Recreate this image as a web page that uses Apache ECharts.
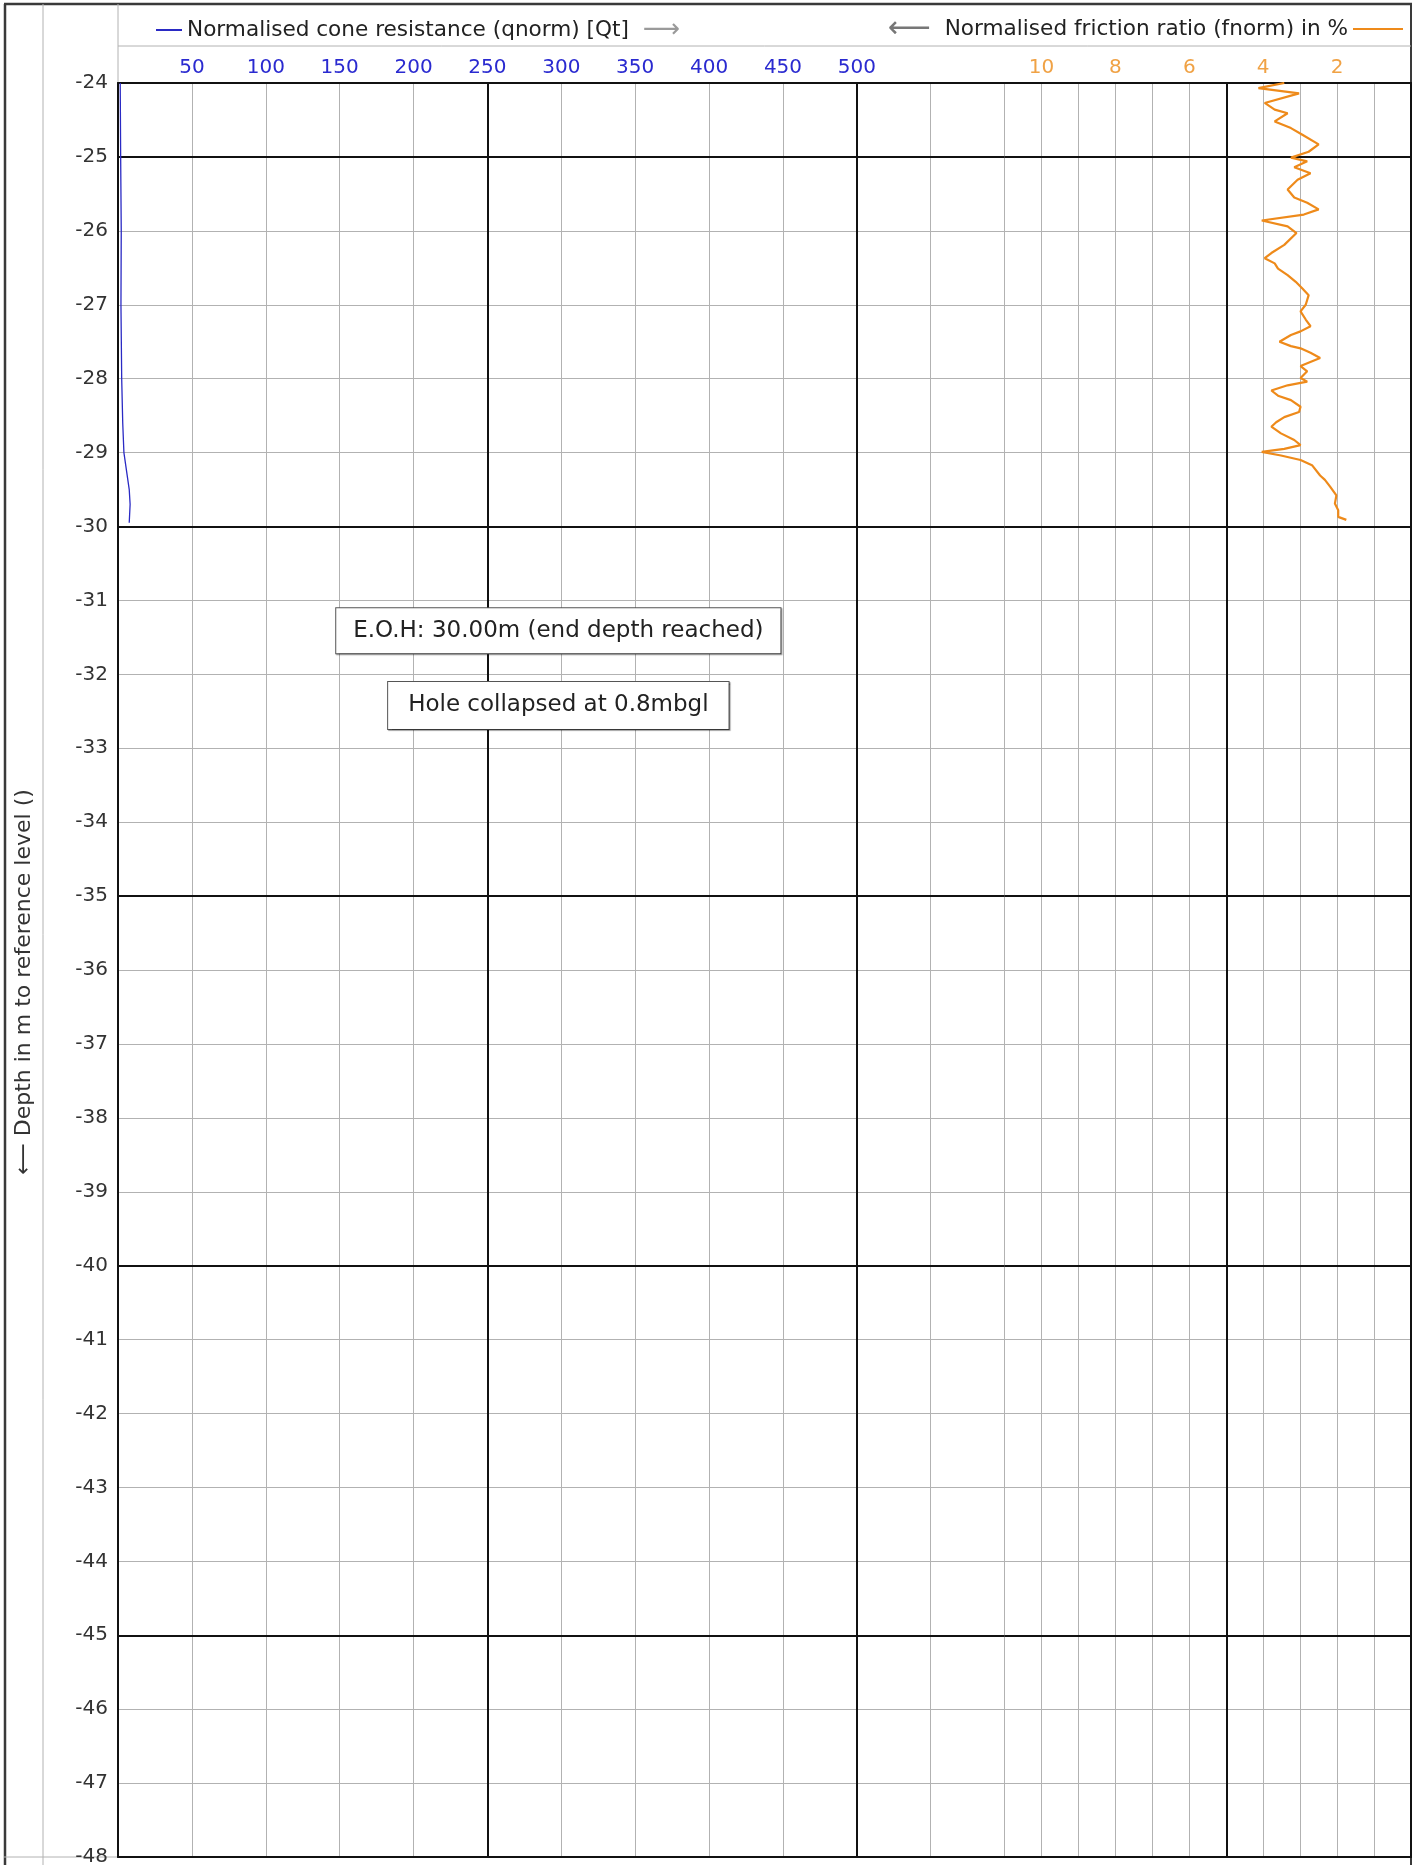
<!DOCTYPE html>
<html>
<head>
<meta charset="utf-8">
<script src="https://cdn.jsdelivr.net/npm/echarts@6/dist/echarts.min.js"></script>
<style>
html,body{margin:0;padding:0;background:#fff;}
#c{width:1418px;height:1865px;}
</style>
</head>
<body>
<div id="c"></div>
<script>
// ---- data ----
const qName = 'Normalised cone resistance (qnorm) [Qt]';
const fName = 'Normalised friction ratio (fnorm) in %';
const axisTitle = '\u27F5 Depth in m to reference level ()';

const qDepth = [-24.0, -25.0, -26.0, -27.0, -28.0, -28.6, -29.0, -29.25, -29.5, -29.7, -29.95];
const qValue = [1.5, 1.8, 2.2, 2.0, 2.5, 3.2, 4.0, 5.8, 7.6, 8.2, 7.6];

const fDepth = [
  -24.00, -24.07, -24.14, -24.27, -24.36, -24.41, -24.52, -24.61, -24.70, -24.83,
  -24.93, -25.01, -25.06, -25.14, -25.22, -25.31, -25.44, -25.55, -25.62, -25.71,
  -25.78, -25.86, -25.94, -26.03, -26.19, -26.30, -26.37, -26.44, -26.51, -26.60,
  -26.69, -26.78, -26.87, -27.00, -27.09, -27.20, -27.29, -27.36, -27.41, -27.50,
  -27.56, -27.59, -27.65, -27.72, -27.83, -27.90, -27.99, -28.04, -28.09, -28.16,
  -28.23, -28.29, -28.38, -28.45, -28.52, -28.59, -28.65, -28.74, -28.83, -28.90,
  -28.95, -28.99, -29.04, -29.10, -29.17, -29.31, -29.37, -29.46, -29.58, -29.69,
  -29.78, -29.87, -29.91
];
const fValue = [
  3.43, 4.13, 3.03, 3.96, 3.69, 3.34, 3.69, 3.25, 2.94, 2.50,
  2.77, 3.25, 2.81, 3.16, 2.72, 3.07, 3.34, 3.16, 2.81, 2.50,
  2.90, 4.04, 3.34, 3.10, 3.43, 3.78, 3.96, 3.69, 3.60, 3.34,
  3.12, 2.94, 2.77, 2.85, 2.99, 2.85, 2.72, 2.99, 3.25, 3.56,
  3.25, 2.99, 2.72, 2.46, 2.99, 2.81, 2.99, 2.81, 3.34, 3.78,
  3.60, 3.25, 2.99, 3.03, 3.43, 3.65, 3.78, 3.52, 3.16, 2.99,
  3.43, 4.04, 3.52, 2.99, 2.68, 2.46, 2.33, 2.19, 2.02, 2.06,
  1.97, 1.97, 1.75
];

const qTicks = [50, 100, 150, 200, 250, 300, 350, 400, 450, 500];
const fTicks = [2, 4, 6, 8, 10];
const depthMin = -48, depthMax = -24;
const majorDepths = [-25, -30, -35, -40, -45];
const majorQ = [250, 500];
const majorF = [5];

const notes = ['E.O.H: 30.00m (end depth reached)', 'Hole collapsed at 0.8mbgl'];
const noteQ = [298, 298];
const noteDepth = [-31.41, -32.42];

// ---- layout / style ----
const FONT = 'DejaVu Sans';
const GRID_C = '#b2b2b2', MAJ_C = '#111111', FRAME_C = '#3a3a3a';
const L = 118, T = 83, R = 1411, B = 1857;
const qMax = 600, fMax = 11, qTotal = 875;
const splitX = L + qMax * (R - L) / qTotal;
const BLUE = '#2a2ac4', BLUE_LBL = '#2a2ad0', ORANGE = '#ee8a1a', ORANGE_LBL = '#f0a245';

const chart = echarts.init(document.getElementById('c'), null, {renderer: 'canvas'});

const mlStyle = {color: MAJ_C, width: 2, type: 'solid'};
function majorLines(xs) {
  return xs.map(v => ({xAxis: v})).concat(majorDepths.map(v => ({yAxis: v})));
}
const borderAxis = {show: true, lineStyle: {color: MAJ_C, width: 2}};

function yAx(idx, pos, withLabels) {
  const a = {
    gridIndex: idx, type: 'value', position: pos, min: depthMin, max: depthMax, interval: 1,
    axisLine: borderAxis, axisTick: {show: false},
    axisLabel: {show: withLabels, color: '#333', fontSize: 20, fontFamily: FONT, margin: 10},
    splitLine: {show: true, lineStyle: {color: GRID_C, width: 1}}
  };
  if (withLabels) {
    a.name = axisTitle;
    a.nameLocation = 'middle';
    a.nameRotate = 90;
    a.nameGap = 83;
    a.nameTextStyle = {color: '#333', fontSize: 22, fontFamily: FONT, padding: [0, 24, 0, 0]};
  }
  return a;
}

const option = {
  animation: false,
  backgroundColor: '#fff',
  grid: [
    {left: L, top: T, width: splitX - L, height: B - T, outerBoundsMode: 'none', containLabel: false},
    {left: splitX, top: T, width: R - splitX, height: B - T, outerBoundsMode: 'none', containLabel: false}
  ],
  xAxis: [
    {gridIndex: 0, type: 'value', position: 'top', min: 0, max: qMax, interval: 50,
     axisLine: borderAxis, axisTick: {show: false},
     axisLabel: {color: BLUE_LBL, fontSize: 20, fontFamily: FONT, margin: 5,
       formatter: v => qTicks.includes(v) ? String(v) : ''},
     splitLine: {show: true, lineStyle: {color: GRID_C, width: 1}}},
    {gridIndex: 0, type: 'value', position: 'bottom', min: 0, max: qMax, interval: 50,
     axisLine: borderAxis, axisTick: {show: false}, axisLabel: {show: false}, splitLine: {show: false}},
    {gridIndex: 1, type: 'value', position: 'top', min: 0, max: fMax, interval: 1, inverse: true,
     axisLine: borderAxis, axisTick: {show: false},
     axisLabel: {color: ORANGE_LBL, fontSize: 20, fontFamily: FONT, margin: 5,
       formatter: v => fTicks.includes(v) ? String(v) : ''},
     splitLine: {show: true, lineStyle: {color: GRID_C, width: 1}}},
    {gridIndex: 1, type: 'value', position: 'bottom', min: 0, max: fMax, interval: 1, inverse: true,
     axisLine: borderAxis, axisTick: {show: false}, axisLabel: {show: false}, splitLine: {show: false}}
  ],
  yAxis: [yAx(0, 'left', true), yAx(1, 'right', false)],
  legend: [
    {data: [qName], left: 151, top: 12, icon: 'rect', itemWidth: 26, itemHeight: 2, itemGap: 0, selectedMode: false,
     textStyle: {fontFamily: FONT, fontSize: 21.6, color: '#222',
       rich: {a: {color: '#9a9a9a', fontSize: 26, fontFamily: FONT}}},
     formatter: n => n + '  {a|\u27F6}'},
    {data: [fName], right: 10, top: 9, align: 'right', icon: 'rect', itemWidth: 50, itemHeight: 2, selectedMode: false,
     textStyle: {fontFamily: FONT, fontSize: 21.6, color: '#222',
       rich: {a: {color: '#777', fontSize: 30, fontFamily: FONT}}},
     formatter: n => '{a|\u27F5}  ' + n}
  ],
  series: [
    {name: qName, type: 'line', xAxisIndex: 0, yAxisIndex: 0, symbol: 'none', z: 5,
     data: qDepth.map((d, i) => [qValue[i], d]),
     lineStyle: {color: BLUE, width: 1.3}, itemStyle: {color: BLUE},
     markLine: {silent: true, symbol: ['none', 'none'], label: {show: false}, lineStyle: mlStyle,
       emphasis: {disabled: true}, data: majorLines(majorQ)},
     markPoint: {symbol: 'rect', symbolSize: 1, itemStyle: {color: 'rgba(0,0,0,0)'}, silent: true,
       data: notes.map((t, i) => ({
         coord: [noteQ[i], noteDepth[i]],
         label: {show: true, position: 'inside', formatter: t, color: '#222', fontSize: 23, fontFamily: FONT,
           backgroundColor: '#fff', borderColor: '#555', borderWidth: 1,
           padding: i === 0 ? [11, 17] : [12, 20],
           shadowColor: 'rgba(0,0,0,0.35)', shadowOffsetX: 1, shadowOffsetY: 1, shadowBlur: 1}
       }))}},
    {name: fName, type: 'line', xAxisIndex: 2, yAxisIndex: 1, symbol: 'none', z: 5,
     data: fDepth.map((d, i) => [fValue[i], d]),
     lineStyle: {color: ORANGE, width: 2.2}, itemStyle: {color: ORANGE},
     markLine: {silent: true, symbol: ['none', 'none'], label: {show: false}, lineStyle: mlStyle,
       emphasis: {disabled: true}, data: majorLines(majorF)}}
  ],
  graphic: [
    {type: 'line', silent: true, shape: {x1: 5, y1: 4, x2: 5, y2: 1865}, style: {stroke: FRAME_C, lineWidth: 2.5}},
    {type: 'line', silent: true, shape: {x1: 4, y1: 4, x2: 1412, y2: 4}, style: {stroke: FRAME_C, lineWidth: 2.5}},
    {type: 'line', silent: true, shape: {x1: 1411, y1: 4, x2: 1411, y2: 1865}, style: {stroke: FRAME_C, lineWidth: 2}},
    {type: 'line', silent: true, shape: {x1: 43, y1: 4, x2: 43, y2: 1865}, style: {stroke: GRID_C, lineWidth: 1}},
    {type: 'line', silent: true, shape: {x1: 118, y1: 4, x2: 118, y2: 83}, style: {stroke: GRID_C, lineWidth: 1}},
    {type: 'line', silent: true, shape: {x1: 118, y1: 46, x2: 1411, y2: 46}, style: {stroke: GRID_C, lineWidth: 1}},
    {type: 'line', silent: true, shape: {x1: 4, y1: 1857, x2: 118, y2: 1857}, style: {stroke: GRID_C, lineWidth: 1}}
  ]
};
chart.setOption(option);
</script>
</body>
</html>
